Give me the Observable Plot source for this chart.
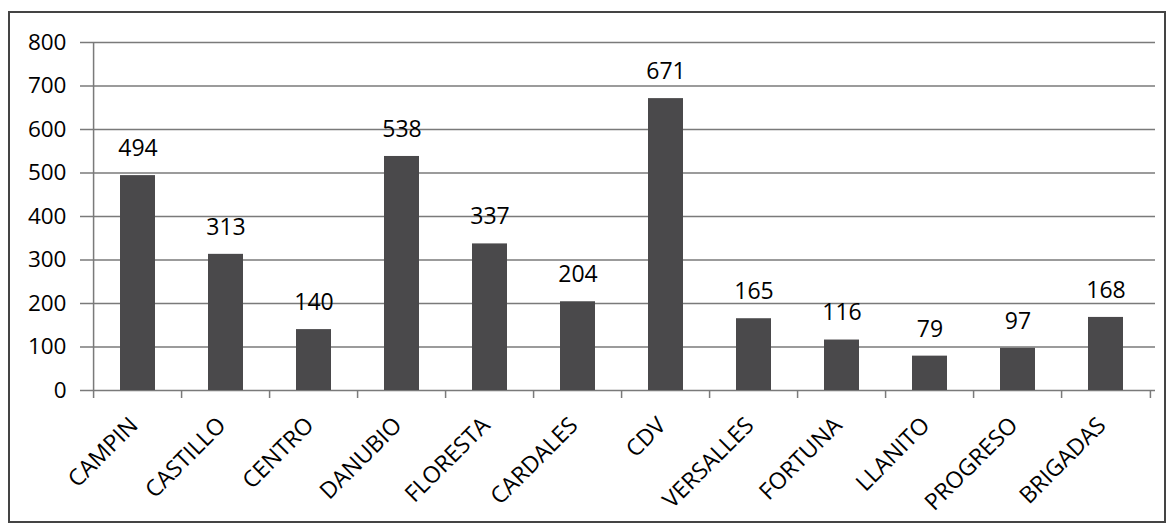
<!DOCTYPE html>
<html>
<head>
<meta charset="utf-8">
<script src="https://cdn.jsdelivr.net/npm/d3@7"></script>
<script src="https://cdn.jsdelivr.net/npm/@observablehq/plot@0.6"></script>
<style>
  html, body { margin: 0; padding: 0; background: #fff; }
  #wrap { position: relative; width: 1170px; height: 525px; }
  #border { position: absolute; left: 8px; top: 11px; width: 1154px; height: 508px; border: 2px solid #444; pointer-events: none; }
</style>
</head>
<body>
<div id="wrap"><div id="border"></div></div>
<script>
const categories = ["CAMPIN", "CASTILLO", "CENTRO", "DANUBIO", "FLORESTA", "CARDALES", "CDV", "VERSALLES", "FORTUNA", "LLANITO", "PROGRESO", "BRIGADAS"];
const values = [494, 313, 140, 538, 337, 204, 671, 165, 116, 79, 97, 168];
const yTicks = [0, 100, 200, 300, 400, 500, 600, 700, 800];

const data = categories.map((c, i) => ({category: c, value: values[i]}));

const W = 1170, H = 525;
const mL = 89, mR = 15, mT = 42, mB = 135;
const step = (W - mL - mR) / categories.length;
const font = "'Open Sans', sans-serif";

const chart = Plot.plot({
  width: W,
  height: H,
  marginLeft: mL,
  marginRight: mR,
  marginTop: mT,
  marginBottom: mB,
  style: {fontFamily: font, background: "transparent", color: "#000"},
  x: {domain: categories, paddingInner: 0.6, paddingOuter: 0.3},
  y: {domain: [0, 800]},
  marks: [
    Plot.ruleY(yTicks, {stroke: "#7a7a7a", strokeWidth: 1.5, strokeOpacity: 1}),
    Plot.axisY({ticks: yTicks, tickSize: 9, tickPadding: 14, fontSize: 22.5, stroke: "#7a7a7a", strokeWidth: 1.5, strokeOpacity: 1, fill: "#000", label: null, tickFormat: d => d}),
    Plot.ruleX([0], {x: () => categories[0], dx: -step / 2, y1: 0, y2: 800, stroke: "#7a7a7a", strokeWidth: 1.5}),
    Plot.barY(data, {x: "category", y: "value", fill: "#4a494b"}),
    Plot.ruleX(categories, {x: d => d, dx: -step / 2, y1: 0, y2: 0, insetBottom: -8, stroke: "#7a7a7a", strokeWidth: 1.5}),
    Plot.ruleX([categories[categories.length - 1]], {x: d => d, dx: step / 2, y1: 0, y2: 0, insetBottom: -8, stroke: "#7a7a7a", strokeWidth: 1.5}),
    Plot.axisX({tickSize: 0, tickPadding: 20, tickRotate: -45, fontSize: 23, fill: "#000", label: null, dy: 11, dx: -4}),
    Plot.text(data, {x: "category", y: "value", text: d => String(d.value), dy: -27, fontSize: 23, fill: "#000"})
  ]
});
document.getElementById("wrap").prepend(chart);
chart.style.position = "absolute";
chart.style.left = "0";
chart.style.top = "0";
</script>
</body>
</html>
